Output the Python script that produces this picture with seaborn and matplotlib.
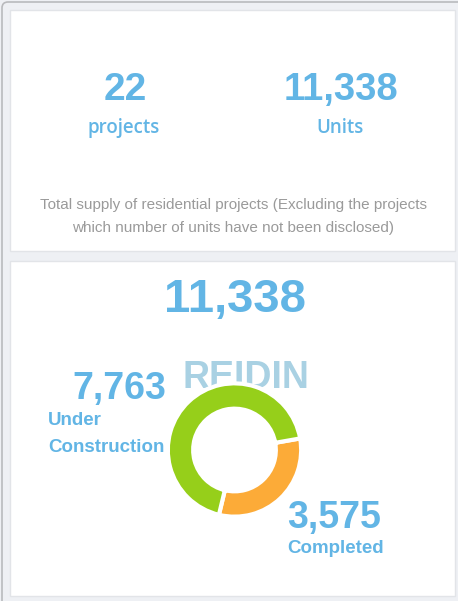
import matplotlib
matplotlib.use("Agg")
import matplotlib.pyplot as plt
import seaborn as sns
from matplotlib.patches import FancyBboxPatch, Rectangle

sns.set_theme(style="white")
plt.rcParams['font.family'] = ['Liberation Sans', 'DejaVu Sans']

# data
status_labels = ["Completed", "Under Construction"]
status_units = [3575, 7763]
project_count = 22
total_units = sum(status_units)
note_lines = ["Total supply of residential projects (Excluding the projects",
              "which number of units have not been disclosed)"]

blue = "#62b5e5"
green = "#96cf1a"
orange = "#fcab38"
W, H = 458, 601

fig = plt.figure(figsize=(W / 100, H / 100), dpi=100)
fig.patch.set_facecolor("#eef0f4")

bg = fig.add_axes([0, 0, 1, 1])
bg.set_xlim(0, W)
bg.set_ylim(H, 0)
bg.axis("off")

# outer frame and the two white cards
bg.add_patch(FancyBboxPatch((2, 2), W + 20, H + 20, boxstyle="round,pad=0,rounding_size=6",
                            facecolor="#eef0f4", edgecolor="#b9babd", lw=1.2))
bg.add_patch(Rectangle((10, 10), 445, 241, facecolor="white", edgecolor="#e2e4e8", lw=1))
bg.add_patch(Rectangle((10, 261), 445, 335, facecolor="white", edgecolor="#e2e4e8", lw=1))

# top card
bg.text(125, 100, f"{project_count}", ha="center", va="baseline", fontsize=28,
        fontweight="bold", color=blue)
bg.text(124, 133, "projects", ha="center", va="baseline", fontsize=13.5,
        fontweight="semibold", family=["Open Sans", "DejaVu Sans"], color=blue)
bg.text(341, 100, f"{total_units:,}", ha="center", va="baseline", fontsize=27.5,
        fontweight="bold", color=blue)
bg.text(340, 133, "Units", ha="center", va="baseline", fontsize=13.5,
        fontweight="semibold", family=["Open Sans", "DejaVu Sans"], color=blue)
bg.text(233, 209, note_lines[0], ha="center", va="baseline", fontsize=11, color="#9a9a9a")
bg.text(233, 232, note_lines[1], ha="center", va="baseline", fontsize=11, color="#9a9a9a")

# bottom card
bg.text(235, 312, f"{total_units:,}", ha="center", va="baseline", fontsize=34,
        fontweight="bold", color=blue)
bg.text(246, 388, "REIDIN", ha="center", va="baseline", fontsize=27,
        fontweight="bold", color="#a9d1e3")
bg.text(119, 399, f"{status_units[1]:,}", ha="center", va="baseline", fontsize=27,
        fontweight="bold", color=blue)
bg.text(48, 425, "Under", ha="left", va="baseline", fontsize=13.5,
        fontweight="bold", color=blue)
bg.text(48, 452, "Construction", ha="left", va="baseline", fontsize=13.5,
        fontweight="bold", color=blue)
bg.text(334, 528, f"{status_units[0]:,}", ha="center", va="baseline", fontsize=27,
        fontweight="bold", color=blue)
bg.text(287, 553, status_labels[0], ha="left", va="baseline", fontsize=13.5,
        fontweight="bold", color=blue)

# donut
cx, cy, r = 234.5, 450, 68
pie_ax = fig.add_axes([(cx - r) / W, (H - cy - r) / H, 2 * r / W, 2 * r / H])
pie_ax.patch.set_alpha(0)
pie_ax.pie(status_units, colors=[orange, green], startangle=10, counterclock=False,
           radius=1, wedgeprops=dict(width=0.38, edgecolor="white", linewidth=3))
pie_ax.set_xlim(-1.02, 1.02)
pie_ax.set_ylim(-1.02, 1.02)
pie_ax.axis("off")

fig.savefig("out.png", dpi=100)
